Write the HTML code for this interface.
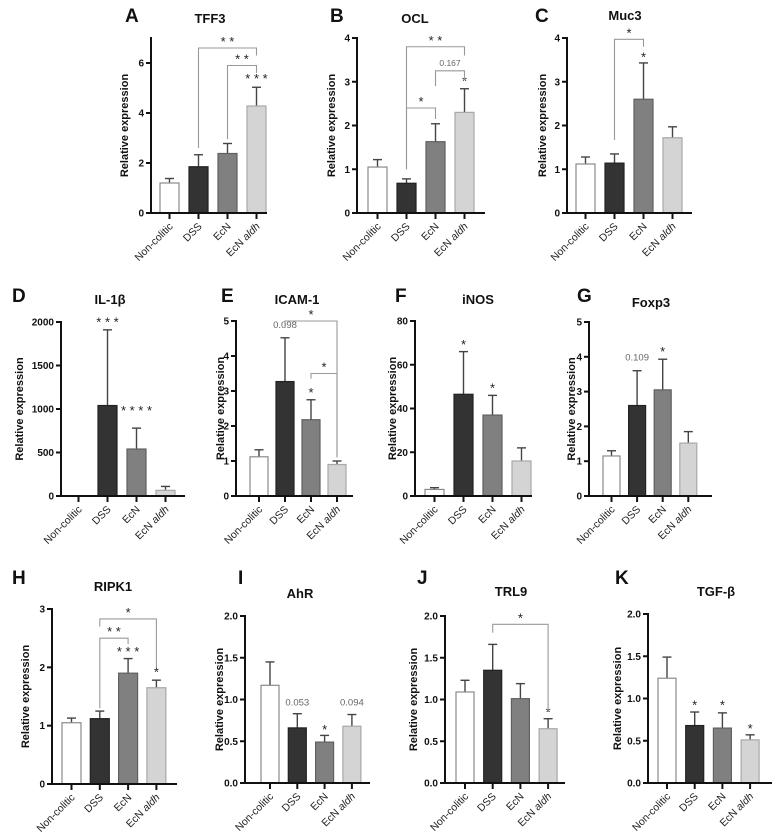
<!DOCTYPE html>
<html><head><meta charset="utf-8">
<style>
html,body{margin:0;padding:0;background:#fff;}
svg{display:block;font-family:"Liberation Sans",Arial,sans-serif;}
</style></head>
<body>
<svg id="fig" width="777" height="838" viewBox="0 0 777 838" xmlns="http://www.w3.org/2000/svg"></svg>
<script>
// ---- data ----
const categories = ["Non-colitic","DSS","EcN","EcN aldh"];
const tff3Means = [1.2,1.85,2.38,4.28];   const tff3Err = [1.38,2.33,2.78,5.03];
const oclMeans  = [1.05,0.68,1.63,2.3];   const oclErr  = [1.22,0.78,2.04,2.84];
const muc3Means = [1.12,1.14,2.6,1.72];   const muc3Err = [1.28,1.35,3.43,1.97];
const il1bMeans = [0,1040,540,65];        const il1bErr = [0,1910,780,110];
const icamMeans = [1.12,3.27,2.18,0.9];   const icamErr = [1.32,4.52,2.75,1.0];
const inosMeans = [3,46.5,37,16];         const inosErr = [3.8,66,46,22];
const foxpMeans = [1.15,2.6,3.05,1.52];   const foxpErr = [1.3,3.6,3.93,1.85];
const ripkMeans = [1.05,1.12,1.9,1.65];   const ripkErr = [1.13,1.25,2.15,1.78];
const ahrMeans  = [1.17,0.66,0.49,0.68];  const ahrErr  = [1.45,0.83,0.57,0.82];
const trl9Means = [1.09,1.35,1.01,0.65];  const trl9Err = [1.23,1.66,1.19,0.77];
const tgfbMeans = [1.24,0.68,0.65,0.51];  const tgfbErr = [1.49,0.84,0.83,0.57];
const ticksA = [0,2,4,6]; const ticksB = [0,1,2,3,4]; const ticksC = [0,1,2,3,4];
const ticksD = [0,500,1000,1500,2000]; const ticksE = [0,1,2,3,4,5];
const ticksF = [0,20,40,60,80]; const ticksG = [0,1,2,3,4,5];
const ticksH = [0,1,2,3]; const ticksI = [0,0.5,1.0,1.5,2.0];
const ticksJ = [0,0.5,1.0,1.5,2.0]; const ticksK = [0,0.5,1.0,1.5,2.0];
// annotations: [barIndex, value, label]
const notesA = [[3,5.45,"* * *"]];
const notesB = [[3,3.05,"*"]];
const notesC = [[2,3.6,"*"]];
const notesD = [[1,2020,"* * *"],[2,1000,"* * * *"]];
const notesE = [[1,4.8,"0.098"],[2,3.0,"*"]];
const notesF = [[1,70,"*"],[2,50,"*"]];
const notesG = [[1,3.9,"0.109"],[2,4.2,"*"]];
const notesH = [[2,2.3,"* * *"],[3,1.95,"*"]];
const notesI = [[1,0.93,"0.053"],[2,0.66,"*"],[3,0.93,"0.094"]];
const notesJ = [[3,0.87,"*"]];
const notesK = [[1,0.94,"*"],[2,0.94,"*"],[3,0.66,"*"]];
// brackets: [from, to, value, leftLegEnd, rightLegEnd, label]
const bracketsA = [[1,3,6.6,2.6,6.3,"* *"],[2,3,5.9,2.95,5.6,"* *"]];
const bracketsB = [[1,3,3.8,1.0,3.6,"* *"],[2,3,3.25,2.9,3.05,"0.167"],[1,2,2.4,1.0,2.15,"*"]];
const bracketsC = [[1,2,3.97,1.67,3.8,"*"]];
const bracketsE = [[1,3,5.0,4.8,1.1,"*"],[2,3,3.5,3.35,1.1,"*"]];
const bracketsH = [[1,3,2.83,2.7,2.0,"*"],[1,2,2.5,1.3,2.4,"* *"]];
const bracketsJ = [[1,3,1.9,1.8,0.85,"*"]];

// ---- layout (not data) ----
const panels = [
 {key:"tff3",L:"A",title:"TFF3",m:tff3Means,e:tff3Err,t:ticksA,n:notesA,b:bracketsA,ax:151,zy:213,ty:38,ymax:7,x0:160,w:19,sp:29,xe:267,lx:125,ly:22,tx:210,tyy:23,yt:125,dec:0},
 {key:"ocl",L:"B",title:"OCL",m:oclMeans,e:oclErr,t:ticksB,n:notesB,b:bracketsB,ax:357,zy:213,ty:38,ymax:4,x0:368,w:19,sp:29,xe:485,lx:330,ly:22,tx:415,tyy:23,yt:332,dec:0},
 {key:"muc3",L:"C",title:"Muc3",m:muc3Means,e:muc3Err,t:ticksC,n:notesC,b:bracketsC,ax:567,zy:213,ty:38,ymax:4,x0:576,w:19,sp:29,xe:692,lx:535,ly:22,tx:625,tyy:20,yt:543,dec:0},
 {key:"il1b",L:"D",title:"IL-1β",m:il1bMeans,e:il1bErr,t:ticksD,n:notesD,b:[],ax:61,zy:496,ty:322,ymax:2000,x0:69,w:19,sp:29,xe:185,lx:12,ly:302,tx:110,tyy:304,yt:20,dec:0},
 {key:"icam",L:"E",title:"ICAM-1",m:icamMeans,e:icamErr,t:ticksE,n:notesE,b:bracketsE,ax:236,zy:496,ty:321,ymax:5,x0:250,w:18,sp:26,xe:353,lx:221,ly:302,tx:297,tyy:304,yt:221,dec:0},
 {key:"inos",L:"F",title:"iNOS",m:inosMeans,e:inosErr,t:ticksF,n:notesF,b:[],ax:415,zy:496,ty:321,ymax:80,x0:425,w:19,sp:29,xe:532,lx:395,ly:302,tx:478,tyy:304,yt:393,dec:0},
 {key:"foxp3",L:"G",title:"Foxp3",m:foxpMeans,e:foxpErr,t:ticksG,n:notesG,b:[],ax:589,zy:496,ty:322,ymax:5,x0:603,w:17,sp:25.6,xe:712,lx:577,ly:302,tx:651,tyy:307,yt:572,dec:0},
 {key:"ripk1",L:"H",title:"RIPK1",m:ripkMeans,e:ripkErr,t:ticksH,n:notesH,b:bracketsH,ax:52,zy:784,ty:609,ymax:3,x0:62,w:19,sp:28.3,xe:177,lx:12,ly:584,tx:113,tyy:591,yt:26,dec:0},
 {key:"ahr",L:"I",title:"AhR",m:ahrMeans,e:ahrErr,t:ticksI,n:notesI,b:[],ax:245,zy:783,ty:616,ymax:2,x0:261,w:18,sp:27.3,xe:370,lx:238,ly:584,tx:300,tyy:598,yt:220,dec:1},
 {key:"trl9",L:"J",title:"TRL9",m:trl9Means,e:trl9Err,t:ticksJ,n:notesJ,b:bracketsJ,ax:445,zy:783,ty:616,ymax:2,x0:456,w:18,sp:27.7,xe:565,lx:417,ly:584,tx:511,tyy:596,yt:414,dec:1},
 {key:"tgfb",L:"K",title:"TGF-β",m:tgfbMeans,e:tgfbErr,t:ticksK,n:notesK,b:[],ax:648,zy:783,ty:614,ymax:2,x0:658,w:18,sp:27.7,xe:772,lx:615,ly:584,tx:716,tyy:596,yt:618,dec:1}
];
const fills = ["#ffffff","#333333","#808080","#d4d4d4"];
const strokes = ["#8a8a8a","#222222","#606060","#a8a8a8"];
const NS = "http://www.w3.org/2000/svg";
const svg = document.getElementById("fig");
function mk(tag, attrs, parent){
  const el = document.createElementNS(NS, tag);
  for (const k in attrs) el.setAttribute(k, attrs[k]);
  (parent||svg).appendChild(el);
  return el;
}
panels.forEach(p => {
  const g = mk("g", {});
  
  
  const yS = v => p.zy - (v / p.ymax) * (p.zy - p.ty);
  const xC = i => p.x0 + p.w/2 + i * p.sp;
  const lt = mk("text", {x:p.lx, y:p.ly, "font-size":19, "font-weight":"bold", fill:"#111"}, g);
  lt.textContent = p.L;
  
  
  const tt = mk("text", {x:p.tx, y:p.tyy, "font-size":13, "font-weight":"bold", "text-anchor":"middle", fill:"#111"}, g);
  tt.textContent = p.title;
  
  
  const ym = (p.zy + p.ty) / 2;
  const yt = mk("text", {x:p.yt, y:ym, "font-size":11, "font-weight":"bold", "text-anchor":"middle", fill:"#111", transform:`rotate(-90 ${p.yt} ${ym})`, "dominant-baseline":"central"}, g);
  yt.textContent = "Relative expression";
  
  
  p.m.forEach((v, i) => {
    const cx = xC(i);
    const top = yS(v), et = yS(p.e[i]);
    if (p.e[i] > v) {
      const el = mk("line", {x1:cx, x2:cx, y1:et, y2:top, stroke:"#444", "stroke-width":1.4}, g);
      
      
      const cap = mk("line", {x1:cx-4.5, x2:cx+4.5, y1:et, y2:et, stroke:"#444", "stroke-width":1.4}, g);
      
      
    }
    const r = mk("rect", {x:cx - p.w/2, y:top, width:p.w, height:Math.max(0, p.zy - top), fill:fills[i], stroke:strokes[i], "stroke-width":1.2}, g);
    
    
  });
  const ya = mk("line", {x1:p.ax, x2:p.ax, y1:p.ty-1, y2:p.zy+1, stroke:"#111", "stroke-width":2}, g);
  
  
  const xa = mk("line", {x1:p.ax-1, x2:p.xe, y1:p.zy, y2:p.zy, stroke:"#111", "stroke-width":2}, g);
  
  
  p.t.forEach(v => {
    const y = yS(v);
    const tk = mk("line", {x1:p.ax-5, x2:p.ax, y1:y, y2:y, stroke:"#111", "stroke-width":2}, g);
    
    
    const tl = mk("text", {x:p.ax-7, y:y+3.5, "font-size":10, "font-weight":"bold", "text-anchor":"end", fill:"#111"}, g);
    tl.textContent = v.toFixed(p.dec);
    
    
  });
  categories.forEach((c, i) => {
    const cx = xC(i);
    const tk = mk("line", {x1:cx, x2:cx, y1:p.zy, y2:p.zy+6, stroke:"#111", "stroke-width":2}, g);
    
    
    const lx = cx + 4, ly = p.zy + 14;
    const tl = mk("text", {x:lx, y:ly, "font-size":10.5, "text-anchor":"end", fill:"#222", transform:`rotate(-45 ${lx} ${ly})`}, g);
    if (c === "EcN aldh") {
      tl.textContent = "EcN ";
      const ts = mk("tspan", {"font-style":"italic"}, tl);
      ts.textContent = "aldh";
    } else tl.textContent = c;
    
    
  });
  p.n.forEach(n => {
    const isNum = /\d/.test(n[2]);
    const t = mk("text", {x:xC(n[0]), y:yS(n[1]) + (isNum?0:6), "font-size":isNum?9.5:13, "text-anchor":"middle", fill:isNum?"#666":"#222"}, g);
    t.textContent = n[2];
    
    
  });
  p.b.forEach(b => {
    const x1 = xC(b[0]), x2 = xC(b[1]), y = yS(b[2]);
    const pl = mk("polyline", {points:`${x1},${yS(b[3])} ${x1},${y} ${x2},${y} ${x2},${yS(b[4])}`, fill:"none", stroke:"#999", "stroke-width":1.1}, g);
    
    
    const isNum = /\d/.test(b[5]);
    const t = mk("text", {x:(x1+x2)/2, y:y - (isNum?5:2), "font-size":isNum?8.5:13, "text-anchor":"middle", fill:isNum?"#666":"#222"}, g);
    t.textContent = b[5];
    
    
  });
});
</script>
</body></html>
